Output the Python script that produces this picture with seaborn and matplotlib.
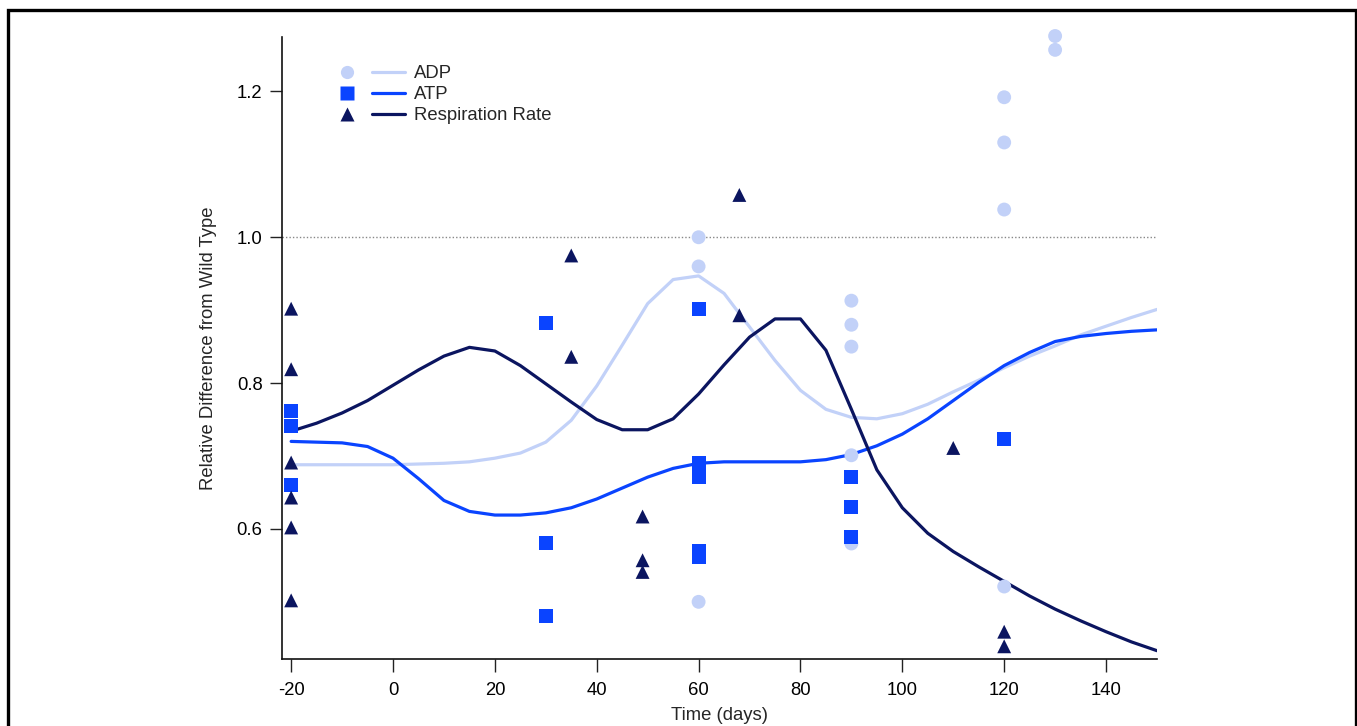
import pandas as pd
import matplotlib
matplotlib.use("Agg")
import matplotlib.pyplot as plt
import seaborn as sns
from matplotlib.lines import Line2D
from matplotlib.patches import Rectangle
from matplotlib.legend_handler import HandlerTuple

# fitted curves, sampled every 5 days
days = list(range(-20, 155, 5))
adp_fit = [0.688, 0.688, 0.688, 0.688, 0.688, 0.689, 0.690, 0.692, 0.697, 0.704,
           0.719, 0.749, 0.796, 0.852, 0.909, 0.942, 0.947, 0.923, 0.877, 0.831,
           0.790, 0.764, 0.753, 0.751, 0.758, 0.771, 0.788, 0.804, 0.821, 0.837,
           0.851, 0.866, 0.878, 0.890, 0.901]
atp_fit = [0.720, 0.719, 0.718, 0.713, 0.697, 0.669, 0.639, 0.624, 0.619, 0.619,
           0.622, 0.629, 0.641, 0.656, 0.671, 0.683, 0.690, 0.692, 0.692, 0.692,
           0.692, 0.695, 0.702, 0.714, 0.730, 0.751, 0.776, 0.801, 0.824, 0.842,
           0.857, 0.864, 0.868, 0.871, 0.873]
resp_fit = [0.734, 0.745, 0.759, 0.776, 0.797, 0.818, 0.837, 0.849, 0.844, 0.824,
            0.799, 0.774, 0.750, 0.736, 0.736, 0.751, 0.785, 0.825, 0.863, 0.888,
            0.888, 0.845, 0.764, 0.681, 0.629, 0.594, 0.569, 0.548, 0.528, 0.508,
            0.490, 0.474, 0.459, 0.445, 0.433]

# measured points
adp_x = [60, 60, 60, 90, 90, 90, 90, 90, 120, 120, 120, 120, 130, 130]
adp_y = [1.0, 0.96, 0.50, 0.913, 0.880, 0.850, 0.701, 0.58, 1.192, 1.130, 1.038, 0.521, 1.276, 1.257]
atp_x = [-20, -20, -20, 30, 30, 30, 60, 60, 60, 60, 60, 90, 90, 90, 120]
atp_y = [0.762, 0.741, 0.660, 0.882, 0.581, 0.480, 0.901, 0.691, 0.671, 0.570, 0.562,
         0.671, 0.630, 0.589, 0.723]
resp_x = [-20, -20, -20, -20, -20, -20, 35, 35, 49, 49, 49, 68, 68, 110, 120, 120]
resp_y = [0.902, 0.819, 0.691, 0.643, 0.602, 0.502, 0.975, 0.836, 0.617, 0.557, 0.541,
          1.058, 0.893, 0.711, 0.459, 0.439]

names = ["ADP", "ATP", "Respiration Rate"]
colors = {"ADP": "#c2d1f8", "ATP": "#0a44ff", "Respiration Rate": "#0b1560"}
markers = {"ADP": "o", "ATP": "s", "Respiration Rate": "^"}

lines_df = pd.concat([
    pd.DataFrame({"day": days, "value": adp_fit, "series": "ADP"}),
    pd.DataFrame({"day": days, "value": atp_fit, "series": "ATP"}),
    pd.DataFrame({"day": days, "value": resp_fit, "series": "Respiration Rate"}),
])
pts_df = pd.concat([
    pd.DataFrame({"day": adp_x, "value": adp_y, "series": "ADP"}),
    pd.DataFrame({"day": atp_x, "value": atp_y, "series": "ATP"}),
    pd.DataFrame({"day": resp_x, "value": resp_y, "series": "Respiration Rate"}),
])

sns.set_style("ticks")
plt.rcParams["font.family"] = ["Liberation Sans", "DejaVu Sans"]
plt.rcParams["axes.unicode_minus"] = False
fs = 13.3

fig = plt.figure(figsize=(13.57, 7.26), dpi=100)
ax = fig.add_axes([0.2078, 0.0927, 0.6448, 0.8563])

ax.axhline(1.0, color="#888888", linestyle=(0, (1, 1.5)), linewidth=1.0, zorder=1)

sns.lineplot(data=lines_df, x="day", y="value", hue="series", palette=colors,
             linewidth=2.3, legend=False, ax=ax, zorder=2)
sns.scatterplot(data=pts_df, x="day", y="value", hue="series", style="series",
                palette=colors, markers=markers, s=100, edgecolor="none",
                legend=False, ax=ax, zorder=3, clip_on=False)

ax.set_xlim(-21.8, 150)
ax.set_ylim(0.422, 1.2746)
ax.set_xticks(range(-20, 160, 20))
ax.set_yticks([0.6, 0.8, 1.0, 1.2])
ax.set_yticklabels(["0.6", "0.8", "1.0", "1.2"])
ax.tick_params(axis="both", direction="out", length=9, width=1, labelsize=fs,
               color="#222222", labelcolor="black")
ax.tick_params(axis="x", pad=8)
ax.tick_params(axis="y", pad=5)
sns.despine(ax=ax)
for side in ["left", "bottom"]:
    ax.spines[side].set_linewidth(1.2)
    ax.spines[side].set_color("#111111")

ax.set_xlabel("Time (days)", fontsize=fs, labelpad=5.5)
ax.set_ylabel("Relative Difference from Wild Type", fontsize=fs, labelpad=14)

handles = []
for n in names:
    dot = Line2D([], [], linestyle="none", marker=markers[n], markersize=9.5,
                 markerfacecolor=colors[n], markeredgecolor="none")
    ln = Line2D([], [], color=colors[n], linewidth=2.3)
    handles.append((dot, ln))
ax.legend(handles, names, handler_map={tuple: HandlerTuple(ndivide=None, pad=0.43)},
          handlelength=4.05, handletextpad=0.45, labelspacing=0.22, frameon=False,
          fontsize=fs, loc="upper left", bbox_to_anchor=(0.0366, 0.9815))

# outer frame around the whole picture
fig.patches.append(Rectangle((0.0059, -0.2), 0.993, 1.186, transform=fig.transFigure,
                             fill=False, edgecolor="black", linewidth=2.4, clip_on=False))

fig.savefig("out.png", dpi=100, facecolor="white")
